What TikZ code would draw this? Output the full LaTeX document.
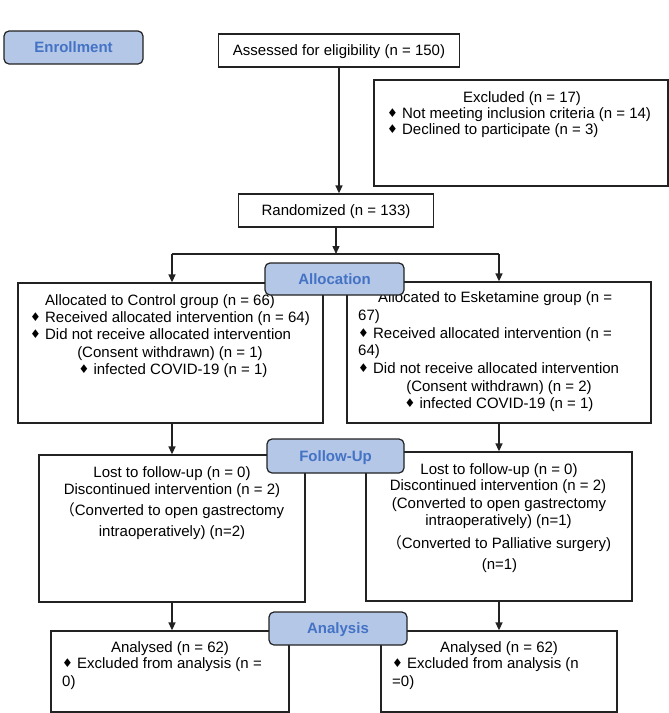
\documentclass[tikz,border=0pt]{standalone}
\usepackage{fontspec}
\setmainfont{Liberation Sans}
\newfontfamily\cjkf{Noto Sans CJK SC}
\newfontfamily\symf{DejaVu Sans}
\usepackage{graphicx}
\usetikzlibrary{arrows.meta}
\definecolor{lblfill}{HTML}{B4C7E7}
\definecolor{lbltext}{HTML}{4472C4}
\definecolor{edgec}{HTML}{222222}
\newcommand{\dmd}{\raisebox{0.05em}{\scalebox{0.8}{\symf ♦}}}
\newcommand{\TxL}[4]{\node[txt,anchor=base west] (#1) at (#2,#3) {#4};}
\newcommand{\TxC}[4]{\node[txt,anchor=base] (#1) at (#2,#3) {#4};}
\begin{document}
\begin{tikzpicture}[x=1pt,y=-1pt,
  box/.style={draw=edgec, line width=1.3pt, inner sep=0pt, fill=white},
  lbl/.style={draw=edgec, line width=1.2pt, fill=lblfill, rounded corners=5pt, inner sep=0pt,
    font=\fontsize{15}{18}\selectfont\bfseries, text=lbltext, text height=10.7pt, text depth=0pt},
  txt/.style={inner sep=0pt, font=\fontsize{15}{18}\selectfont},
  arr/.style={-{Triangle[length=8pt,width=7pt]}, line width=1.3pt, draw=edgec},
  ln/.style={line width=1.3pt, draw=edgec}]
\useasboundingbox (0,0) rectangle (669,713);

% boxes
\node[box, minimum width=241pt, minimum height=33pt, font=\fontsize{15}{18}\selectfont, text height=10.7pt, text depth=0pt] (assess) at (339,50.5) {Assessed for eligibility (n = 150)};
\node[box, minimum width=294pt, minimum height=106pt] (excl) at (521,133) {};
\node[box, minimum width=195pt, minimum height=33pt, font=\fontsize{15}{18}\selectfont, text height=10.7pt, text depth=0pt] (rand) at (336,210.5) {Randomized (n = 133)};
\node[box, minimum width=305pt, minimum height=140pt] (ctrl) at (170.5,353) {};
\node[box, minimum width=304pt, minimum height=141pt] (eske) at (499,352.5) {};
\node[box, minimum width=266pt, minimum height=147pt] (fl) at (172,528.5) {};
\node[box, minimum width=266pt, minimum height=149pt] (fr) at (499,526.5) {};
\node[box, minimum width=238pt, minimum height=81pt] (al) at (170,671.5) {};
\node[box, minimum width=236pt, minimum height=81pt] (ar) at (499,671.5) {};

% texts
\TxC{exc1}{522}{102}{Excluded (n = 17)}
\TxL{exc2}{387}{118.7}{\dmd\ Not meeting inclusion criteria (n = 14)}
\TxL{exc3}{387}{134.4}{\dmd\ Declined to participate (n = 3)}

\TxL{c1}{45}{305.5}{Allocated to Control group (n = 66)}
\TxL{c2}{30}{322}{\dmd\ Received allocated intervention (n = 64)}
\TxL{c3}{30}{339.5}{\dmd\ Did not receive allocated intervention}
\TxC{c4}{170}{357}{(Consent withdrawn) (n = 1)}
\TxC{c5}{173}{374.5}{\dmd\ infected COVID-19 (n = 1)}

\TxL{e1}{378}{302.5}{Allocated to Esketamine group (n =}
\TxL{e2}{358}{320.5}{67)}
\TxL{e3}{358}{338.5}{\dmd\ Received allocated intervention (n =}
\TxL{e4}{358}{355.5}{64)}
\TxL{e5}{358}{373.5}{\dmd\ Did not receive allocated intervention}
\TxC{e6}{499}{391.5}{(Consent withdrawn) (n = 2)}
\TxC{e7}{499}{408.5}{\dmd\ infected COVID-19 (n = 1)}

\TxC{f1}{172}{477}{Lost to follow-up (n = 0)}
\TxC{f2}{172}{494}{Discontinued intervention (n = 2)}
\TxC{f3}{172}{515.5}{{\cjkf （}Converted to open gastrectomy}
\TxC{f4}{172}{536.5}{intraoperatively) (n=2)}

\TxC{g1}{499}{474}{Lost to follow-up (n = 0)}
\TxC{g2}{498}{490.5}{Discontinued intervention (n = 2)}
\TxC{g3}{499}{508}{(Converted to open gastrectomy}
\TxC{g4}{498.5}{525.5}{intraoperatively) (n=1)}
\TxC{g5}{499}{548}{{\cjkf （}Converted to Palliative surgery)}
\TxC{g6}{499.5}{569.5}{(n=1)}

\TxC{a1}{170}{652}{Analysed (n = 62)}
\TxL{a2}{62}{668.5}{\dmd\ Excluded from analysis (n =}
\TxL{a3}{62}{686.5}{0)}
\TxC{b1}{499}{652}{Analysed (n = 62)}
\TxL{b2}{392}{668.5}{\dmd\ Excluded from analysis (n}
\TxL{b3}{392}{686.5}{=0)}

% connectors
\draw[arr] (assess.south) -- (assess.south |- rand.north);
\coordinate (split) at (336,254);
\coordinate (hl) at (172,254);
\coordinate (hr) at (499,254);
\draw[arr] (rand.south) -- (split);
\draw[ln] (hl) -- (hr);
\draw[arr] (hl) -- (hl |- ctrl.north);
\draw[arr] (hr) -- (eske.north);
\draw[arr] (ctrl.south -| fl.north) -- (fl.north);
\draw[arr] (eske.south) -- (fr.north);
\draw[arr] (fl.south) -- (fl.south |- al.north);
\draw[arr] (fr.south) -- (ar.north);

% phase labels
\node[lbl, minimum width=139pt, minimum height=33pt] (enr) at (73.5,47.5) {Enrollment};
\node[lbl, minimum width=139pt, minimum height=32pt] (alloc) at (334.5,279) {Allocation};
\node[lbl, minimum width=137pt, minimum height=34pt] (fol) at (335.5,456) {Follow-Up};
\node[lbl, minimum width=138pt, minimum height=33pt] (ana) at (338,628.5) {Analysis};
\end{tikzpicture}
\end{document}
